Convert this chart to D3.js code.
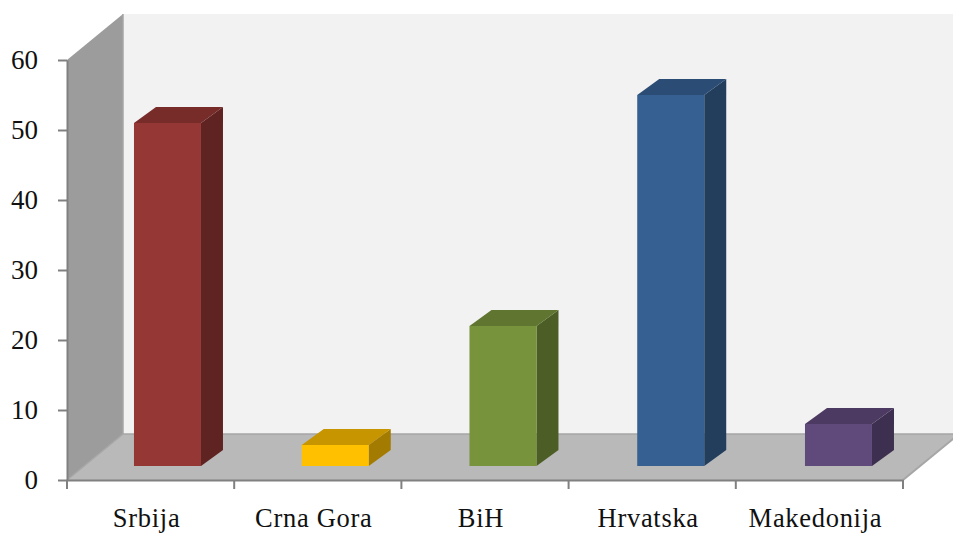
<!DOCTYPE html>
<html><head><meta charset="utf-8">
<script src="https://cdn.jsdelivr.net/npm/d3@7"></script>
<style>html,body{margin:0;padding:0;background:#fff}svg{display:block}text{font-family:"Liberation Serif",serif;fill:#111}</style>
</head><body><svg id="c" width="953" height="533"></svg>
<script>
const categories=["Srbija","Crna Gora","BiH","Hrvatska","Makedonija"];
const values=[49,3,20,53,6];
const frontColors=["#953735","#ffc000","#77933c","#376092","#604a7b"];
const topColors=["#772c2a","#c79500","#5f7530","#2b4c74","#4c3a62"];
const sideColors=["#5f2321","#a37b00","#4c5e26","#233d5d","#3d2f4f"];
const yTicks=[0,10,20,30,40,50,60];
const svg=d3.select("#c");
const W=953;
const x=d3.scaleBand().domain(categories).range([67,903]);
const barX=d3.scaleBand().domain(categories).range([83.6,922.35]);
const y=d3.scaleLinear().domain([0,60]).range([480,60]);
const dx=56,dy=-46;
const L=x.range()[0],R=x.range()[1];
svg.append("polygon").attr("points",`${L},${y(60)} ${L+dx},${y(60)+dy} ${L+dx},${y(0)+dy} ${L},${y(0)}`).attr("fill","#9c9c9c");
svg.append("rect").attr("x",L+dx).attr("y",y(60)+dy).attr("width",W-L-dx).attr("height",y(0)-y(60)).attr("fill","#f2f2f2");
svg.append("polygon").attr("points",`${L},${y(0)} ${L+dx},${y(0)+dy} ${R+dx},${y(0)+dy} ${R},${y(0)}`).attr("fill","#b9b9b9");
// wall edges
const edge="#a6a6a6";
svg.append("line").attr("x1",L+dx).attr("x2",L+dx).attr("y1",y(60)+dy).attr("y2",y(0)+dy).attr("stroke",edge).attr("stroke-width",1.5);
svg.append("line").attr("x1",L+dx).attr("x2",W).attr("y1",y(0)+dy).attr("y2",y(0)+dy).attr("stroke",edge).attr("stroke-width",1.5);
svg.append("line").attr("x1",L).attr("x2",L+dx).attr("y1",y(0)).attr("y2",y(0)+dy).attr("stroke",edge).attr("stroke-width",1.5);
svg.append("line").attr("x1",R).attr("x2",R+dx).attr("y1",y(0)).attr("y2",y(0)+dy).attr("stroke",edge).attr("stroke-width",2);
// axes
const axisColor="#808080";
const gy=svg.append("g").attr("transform",`translate(${L},0)`).call(d3.axisLeft(y).tickValues(yTicks).tickSize(9).tickSizeOuter(0).tickPadding(20));
gy.selectAll("text").style("font-size","27px").attr("dy","0.32em");
const gx=svg.append("g").attr("transform","translate(0,480)").call(d3.axisBottom(x).tickSize(0).tickPadding(0));
gx.selectAll("text").style("font-size","26.5px").style("letter-spacing","0.7px").attr("dx",-4).attr("y",47).attr("dy",0);
const bounds=d3.range(categories.length+1).map(i=>L+i*x.step());
svg.append("g").selectAll("line").data(bounds).join("line").attr("x1",d=>d).attr("x2",d=>d).attr("y1",480).attr("y2",489).attr("stroke",axisColor).attr("stroke-width",2);
gy.selectAll("path,line").attr("stroke",axisColor).attr("stroke-width",2);
gx.selectAll("line").remove();
gx.selectAll("path").attr("stroke",axisColor).attr("stroke-width",2);
// bars
const bw=67,odx=22,ody=-16,floorOff=-14;
const g=svg.append("g");
categories.forEach((c,i)=>{
  const x0=barX(c)+(barX.step()-bw)/2,x1=x0+bw,yb=y(0)+floorOff,yt=y(values[i])+floorOff;
  g.append("polygon").attr("points",`${x1},${yt} ${x1+odx},${yt+ody} ${x1+odx},${yb+ody} ${x1},${yb}`).attr("fill",sideColors[i]);
  g.append("polygon").attr("points",`${x0},${yt} ${x0+odx},${yt+ody} ${x1+odx},${yt+ody} ${x1},${yt}`).attr("fill",topColors[i]);
  g.append("rect").attr("x",x0).attr("y",yt).attr("width",bw).attr("height",yb-yt).attr("fill",frontColors[i]);
});
</script></body></html>
